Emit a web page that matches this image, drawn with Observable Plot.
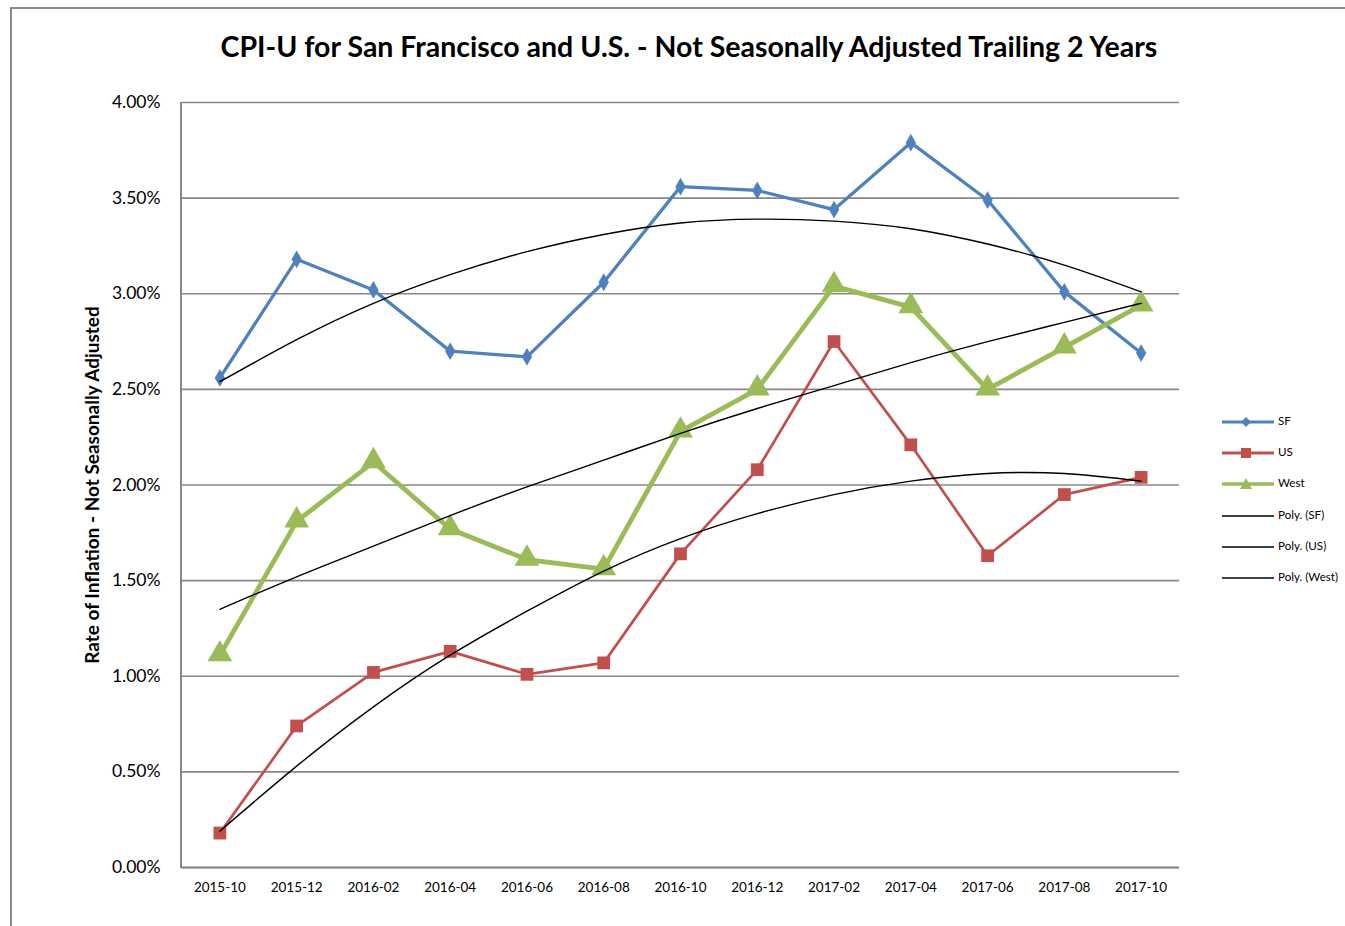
<!DOCTYPE html>
<html>
<head>
<meta charset="utf-8">
<script src="https://cdn.jsdelivr.net/npm/d3@7"></script>
<script src="https://cdn.jsdelivr.net/npm/@observablehq/plot@0.6"></script>
<style>
  html, body { margin: 0; padding: 0; background: #fff; width: 1345px; height: 926px; overflow: hidden; }
  body { position: relative; font-family: Lato, "Open Sans", sans-serif; }
  #frame { position: absolute; left: 10px; top: 7px; width: 1400px; height: 1000px; border-left: 2px solid #8a8a8a; border-top: 2px solid #8a8a8a; }
  #title { position: absolute; left: 0; width: 1378px; top: 29px; text-align: center; font-size: 28.5px; font-weight: bold; color: #000; }
  #chart { position: absolute; left: 0; top: 80px; }
  #legend { position: absolute; left: 1220px; top: 0; }
  .item { position: absolute; left: 0; height: 14px; white-space: nowrap; font-size: 11.6px; color: #000; }
  .item svg { position: absolute; left: 0; top: 0; }
  .item span { position: absolute; left: 58px; top: -1px; }
</style>
</head>
<body>
<div id="frame"></div>
<div id="title">CPI-U for San Francisco and U.S. - Not Seasonally Adjusted Trailing 2 Years</div>
<div id="chart"></div>
<div id="legend"></div>
<script>
const months = ["2015-10","2015-12","2016-02","2016-04","2016-06","2016-08","2016-10","2016-12","2017-02","2017-04","2017-06","2017-08","2017-10"];
const sf   = [2.56, 3.18, 3.02, 2.70, 2.67, 3.06, 3.56, 3.54, 3.44, 3.79, 3.49, 3.01, 2.69];
const us   = [0.18, 0.74, 1.02, 1.13, 1.01, 1.07, 1.64, 2.08, 2.75, 2.21, 1.63, 1.95, 2.04];
const west = [1.11, 1.81, 2.12, 1.77, 1.61, 1.56, 2.28, 2.50, 3.04, 2.93, 2.50, 2.72, 2.94];
const sfTrend   = [2.54, 2.76, 2.95, 3.10, 3.22, 3.31, 3.37, 3.39, 3.38, 3.34, 3.26, 3.15, 3.01];
const usTrend   = [0.19, 0.53, 0.84, 1.11, 1.34, 1.55, 1.72, 1.85, 1.95, 2.02, 2.06, 2.06, 2.02];
const westTrend = [1.35, 1.52, 1.68, 1.84, 1.99, 2.13, 2.27, 2.40, 2.52, 2.64, 2.75, 2.85, 2.95];
const yTicks = [0, 0.5, 1, 1.5, 2, 2.5, 3, 3.5, 4];
const yLabel = "Rate of Inflation - Not Seasonally Adjusted";
const seriesNames = ["SF", "US", "West", "Poly. (SF)", "Poly. (US)", "Poly. (West)"];

const colors = {SF: "#4F81BD", US: "#C0504D", West: "#9BBB59"};
const rows = months.map((m, i) => ({month: m, sf: sf[i], us: us[i], west: west[i], sfT: sfTrend[i], usT: usTrend[i], westT: westTrend[i]}));

const leftLine = (index, scales, values, dims) => {
  const g = d3.create("svg:line")
    .attr("x1", dims.marginLeft).attr("x2", dims.marginLeft)
    .attr("y1", dims.marginTop).attr("y2", dims.height - dims.marginBottom + 1)
    .attr("stroke", "#878787").attr("stroke-width", 2);
  return g.node();
};

const chart = Plot.plot({
  width: 1345,
  height: 846,
  marginLeft: 181,
  marginRight: 166,
  marginTop: 22,
  marginBottom: 59,
  style: {fontFamily: "Lato, 'Open Sans', sans-serif", color: "#000", background: "transparent"},
  x: {type: "point", domain: months, padding: 0.5, round: false, label: null},
  y: {domain: [0, 4], label: null},
  marks: [
    Plot.ruleY(yTicks, {stroke: "#878787", strokeWidth: 1.6}),
    Plot.ruleY([0], {stroke: "#878787", strokeWidth: 2.2}),
    leftLine,
    Plot.axisY({ticks: yTicks, tickFormat: d => d.toFixed(2) + "%", tickSize: 0, tickPadding: 21, fontSize: 17.5, label: null}),
    Plot.axisX({tickSize: 0, tickPadding: 15, fontSize: 13.5, label: null}),
    Plot.text([yLabel], {frameAnchor: "left", textAnchor: "middle", rotate: -90, dx: -89, fontWeight: "bold", fontSize: 19, fill: "#000"}),
    Plot.line(rows, {x: "month", y: "sf", stroke: colors.SF, strokeWidth: 3.3}),
    Plot.dot(rows, {x: "month", y: "sf", symbol: "diamond", r: 5.4, fill: colors.SF, stroke: null}),
    Plot.line(rows, {x: "month", y: "us", stroke: colors.US, strokeWidth: 2.7}),
    Plot.dot(rows, {x: "month", y: "us", symbol: "square", r: 7.2, fill: colors.US, stroke: null}),
    Plot.line(rows, {x: "month", y: "west", stroke: colors.West, strokeWidth: 4.8}),
    Plot.dot(rows, {x: "month", y: "west", symbol: "triangle", r: 9.2, fill: colors.West, stroke: null, dy: -1}),
    Plot.line(rows, {x: "month", y: "sfT", stroke: "#000", strokeWidth: 1.4, curve: "natural"}),
    Plot.line(rows, {x: "month", y: "usT", stroke: "#000", strokeWidth: 1.4, curve: "natural"}),
    Plot.line(rows, {x: "month", y: "westT", stroke: "#000", strokeWidth: 1.4, curve: "natural"})
  ]
});
document.getElementById("chart").appendChild(chart);

// legend
const legend = document.getElementById("legend");
const tops = [415, 446, 477, 509, 540, 571];
const markerPaths = {
  SF: "M26,2 L31,7 L26,12 L21,7 Z",
  US: "M21,2 L31,2 L31,12 L21,12 Z",
  West: "M26,1 L32,12 L20,12 Z"
};
seriesNames.forEach((name, i) => {
  const div = document.createElement("div");
  div.className = "item";
  div.style.top = tops[i] + "px";
  const isTrend = i >= 3;
  const c = isTrend ? "#000" : colors[name];
  const w = isTrend ? 1.4 : (name === "West" ? 3.5 : 3);
  let svg = `<svg width="56" height="14"><line x1="2" x2="54" y1="7" y2="7" stroke="${c}" stroke-width="${w}"/>`;
  if (!isTrend) svg += `<path d="${markerPaths[name]}" fill="${c}"/>`;
  svg += `</svg>`;
  div.innerHTML = svg + `<span>${name}</span>`;
  legend.appendChild(div);
});
</script>
</body>
</html>
